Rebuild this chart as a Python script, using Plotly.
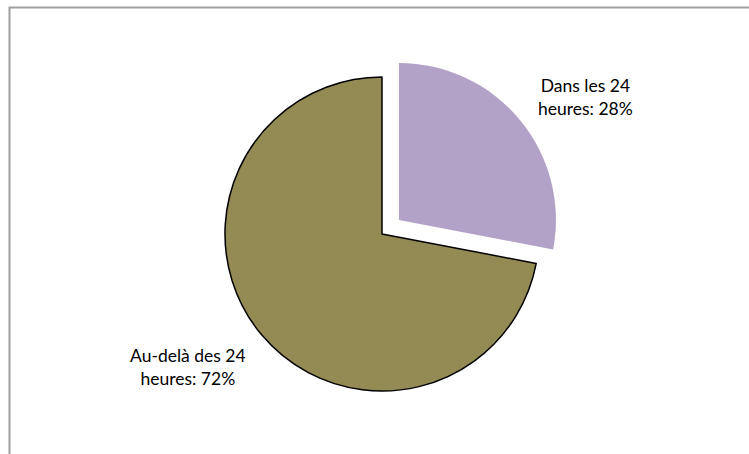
import plotly.graph_objects as go

# Délai de traitement
categories = ["Dans les 24 heures", "Au-delà des 24 heures"]
values = [28, 72]
colors = ["#B3A2C7", "#948A54"]
pulls = [0.14, 0]

W, H = 749, 454

def wrap(label):
    head, _, tail = label.rpartition(" heures")
    return f"{head}<br>heures" if head else label

fig = go.Figure(
    go.Pie(
        labels=categories,
        values=values,
        sort=False,
        direction="clockwise",
        rotation=0,
        pull=pulls,
        marker=dict(colors=colors, line=dict(color=["rgba(0,0,0,0)", "#000000"], width=[0, 1.5])),
        textinfo="none",
        hoverinfo="label+percent",
        domain=dict(x=[203 / W, 561 / W], y=[1 - 413 / H, 1 - 55 / H]),
    )
)

# Étiquettes de données
label_pos = [(585, 97), (188, 367)]
total = sum(values)
for cat, v, (px, py) in zip(categories, values, label_pos):
    fig.add_annotation(
        x=px / W, y=1 - py / H, xref="paper", yref="paper",
        xanchor="center", yanchor="middle",
        text=f"{wrap(cat)}: {round(100 * v / total)}%",
        showarrow=False, align="center",
        font=dict(family="Lato", size=17.5, color="#000000"),
    )

# Cadre de la zone de graphique
fig.add_shape(
    type="rect", xref="paper", yref="paper",
    x0=9.5 / W, x1=1.05, y0=-0.05, y1=1 - 7.5 / H,
    line=dict(color="#A0A0A0", width=2), fillcolor="rgba(0,0,0,0)",
)

fig.update_layout(
    width=W, height=H,
    margin=dict(l=0, r=0, t=0, b=0),
    paper_bgcolor="#FFFFFF", plot_bgcolor="#FFFFFF",
    showlegend=False,
)

fig.write_html("out.html")
